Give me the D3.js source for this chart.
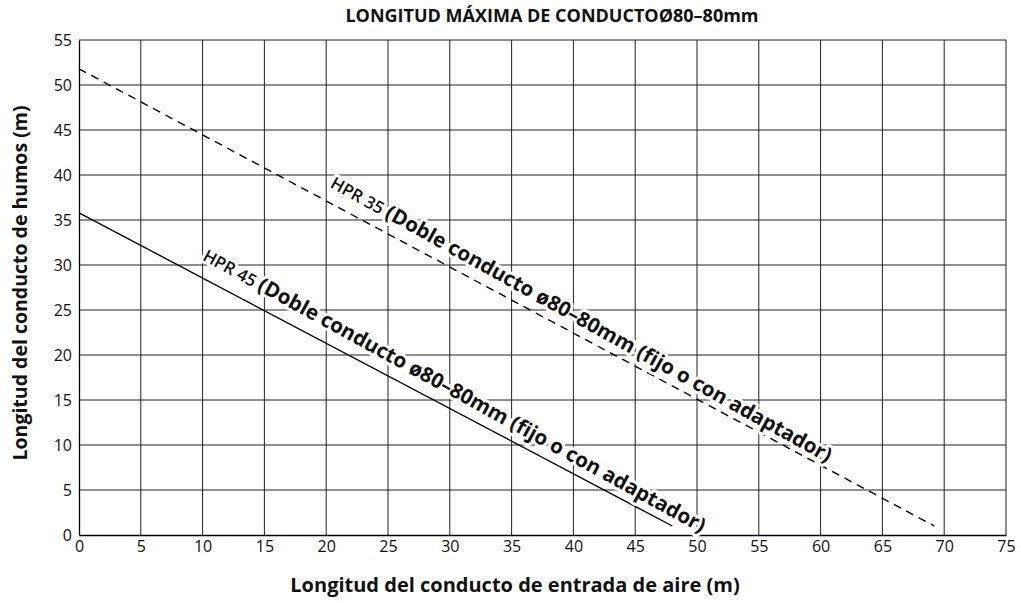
<!DOCTYPE html>
<html><head><meta charset="utf-8">
<script src="https://cdn.jsdelivr.net/npm/d3@7"></script>
<style>body{margin:0;background:#fff}svg{display:block;font-family:"Open Sans",sans-serif}</style>
</head><body><svg id="c" width="1021" height="603"></svg>
<script>
const xTicks = [0,5,10,15,20,25,30,35,40,45,50,55,60,65,70,75];
const yTicks = [0,5,10,15,20,25,30,35,40,45,50,55];
const seriesNames = ["HPR 35", "HPR 45"];
const seriesDesc = "(Doble conducto ø80–80mm (fijo o con adaptador)";
const hpr35 = [[0,51.8],[69.2,1]];
const hpr45 = [[0,35.8],[48,1]];
const title = "LONGITUD MÁXIMA DE CONDUCTOØ80–80mm";
const xLabel = "Longitud del conducto de entrada de aire (m)";
const yLabel = "Longitud del conducto de humos (m)";

const svg = d3.select("#c");
const x = d3.scaleLinear().domain([0,75]).range([79,1006]);
const y = d3.scaleLinear().domain([0,55]).range([535,40]);

// grid
svg.append("g").selectAll("line").data(xTicks.slice(1)).join("line")
  .attr("x1",d=>x(d)).attr("x2",d=>x(d)).attr("y1",y(0)).attr("y2",y(55))
  .attr("stroke","#222").attr("stroke-width",1);
svg.append("g").selectAll("line").data(yTicks.slice(1)).join("line")
  .attr("x1",x(0)).attr("x2",x(75)).attr("y1",d=>y(d)).attr("y2",d=>y(d))
  .attr("stroke","#222").attr("stroke-width",1);

// axes
const ax = svg.append("g").attr("transform",`translate(0,${y(0)})`)
  .call(d3.axisBottom(x).tickValues(xTicks).tickSize(0).tickPadding(6));
const ay = svg.append("g").attr("transform",`translate(${x(0)},0)`)
  .call(d3.axisLeft(y).tickValues(yTicks).tickSize(0).tickPadding(7));
[ax,ay].forEach(a=>{a.select(".domain").attr("stroke","#000").attr("stroke-width",1.3);
  a.selectAll("text").attr("font-size",16).attr("fill","#111").attr("font-family","'Open Sans',sans-serif");});
ay.selectAll("text").attr("dy","0.35em");

const line = d3.line().x(d=>x(d[0])).y(d=>y(d[1]));
svg.append("path").datum(hpr35).attr("d",line).attr("fill","none").attr("stroke","#000")
  .attr("stroke-width",1.4).attr("stroke-dasharray","8,6");
svg.append("path").datum(hpr45).attr("d",line).attr("fill","none").attr("stroke","#000")
  .attr("stroke-width",1.4);

function label(data, startX, name, off){
  const [p0,p1]=data;
  const ang = Math.atan2(y(p1[1])-y(p0[1]), x(p1[0])-x(p0[0]))*180/Math.PI + 0.9;
  const slope=(p1[1]-p0[1])/(p1[0]-p0[0]);
  const px=x(startX), py=y(p0[1]+slope*startX);
  const t = svg.append("text").attr("transform",`translate(${px},${py}) rotate(${ang})`)
    .attr("y",-off).attr("fill","#111")
    .attr("stroke","#fff").attr("stroke-width",6).attr("paint-order","stroke").attr("stroke-linejoin","round");
  t.append("tspan").attr("font-size",17).attr("font-weight",600).text(name+" ");
  t.append("tspan").attr("font-size",20.5).attr("font-weight",700).text(seriesDesc);
}
label(hpr35, 19.7, seriesNames[0], 14);
label(hpr45, 9.3, seriesNames[1], 16);

svg.append("text").attr("x",552).attr("y",22).attr("text-anchor","middle")
  .attr("font-size",18).attr("font-weight",700).attr("fill","#111").text(title);
svg.append("text").attr("x",515).attr("y",592).attr("text-anchor","middle")
  .attr("font-size",20).attr("font-weight",700).attr("fill","#111").text(xLabel);
svg.append("text").attr("transform","translate(27,283) rotate(-90)").attr("text-anchor","middle")
  .attr("font-size",19.5).attr("font-weight",700).attr("fill","#111").text(yLabel);
</script></body></html>
